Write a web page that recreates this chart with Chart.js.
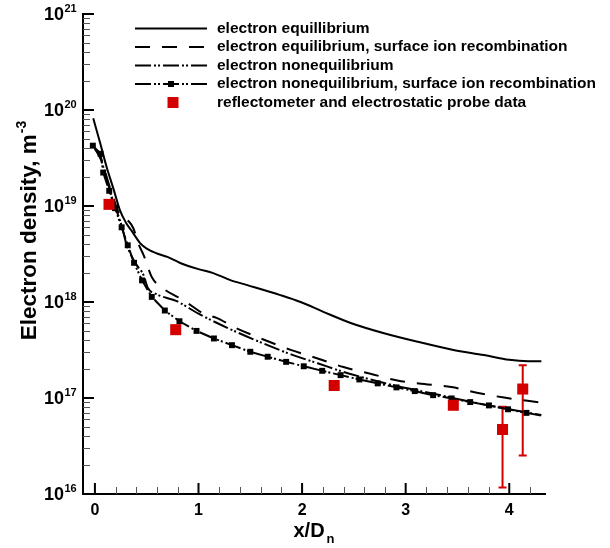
<!DOCTYPE html>
<html>
<head>
<meta charset="utf-8">
<script src="https://cdn.jsdelivr.net/npm/chart.js@4.4.0/dist/chart.umd.min.js"></script>
<style>
  body { margin: 0; background: #fff; }
  #wrap { width: 610px; height: 548px; }
</style>
</head>
<body>
<div id="wrap"><canvas id="densityChart" width="610" height="548"></canvas></div>
<script>
// legend texts, same order as the datasets
const seriesLabels = [
  'electron equillibrium',
  'electron equilibrium, surface ion recombination',
  'electron nonequilibrium',
  'electron nonequilibrium, surface ion recombination',
  'reflectometer and electrostatic probe data'
];

// electron equilibrium (solid)
const eqX = [-0.016, 0.05, 0.113, 0.18, 0.242, 0.3, 0.355, 0.40, 0.436, 0.5, 0.6, 0.7, 0.823, 1.0, 1.142,
  1.307, 1.471, 1.79, 1.985, 2.2, 2.469, 2.8, 3.117, 3.45, 3.756, 4.0, 4.18, 4.31];
const eqY = [8.2e19, 4.55e19, 2.55e19, 1.5e19, 9.0e18, 6.7e18, 5.5e18, 4.65e18, 4.1e18, 3.6e18, 3.2e18, 2.95e18,
  2.55e18, 2.2e18, 2.0e18, 1.69e18, 1.5e18, 1.18e18, 1.0e18, 7.95e17, 6.05e17, 4.7e17, 3.85e17, 3.18e17,
  2.8e17, 2.5e17, 2.42e17, 2.42e17];

// electron equilibrium, surface ion recombination (dashed)
const eqRecX = [0.0, 0.06, 0.12, 0.18, 0.24, 0.3, 0.33, 0.37, 0.42, 0.47, 0.55, 0.66, 0.81, 0.92, 1.05, 1.18,
  1.34, 1.6, 1.89, 2.15, 2.4, 2.66, 2.92, 3.18, 3.44, 3.7, 3.95, 4.29];
const eqRecY = [3.95e19, 3.14e19, 1.9e19, 1.2e19, 8.1e18, 7.2e18, 6.85e18, 5.9e18, 4.05e18, 3.08e18, 1.81e18,
  1.38e18, 1.11e18, 9.35e17, 7.55e17, 6.8e17, 5.5e17, 4.18e17, 3.17e17, 2.58e17, 2.1e17, 1.79e17, 1.52e17,
  1.4e17, 1.3e17, 1.13e17, 1.01e17, 9.0e16];

// electron nonequilibrium (dash-dot-dot)
const neqX = [0.0, 0.06, 0.12, 0.18, 0.24, 0.27, 0.30, 0.34, 0.40, 0.47, 0.51, 0.6, 0.79, 1.0, 1.3, 1.6, 1.9,
  2.15, 2.4, 2.66, 2.92, 3.18, 3.44, 3.7, 3.95, 4.31];
const neqY = [3.95e19, 3.0e19, 1.8e19, 1.09e19, 7.2e18, 5.6e18, 4.15e18, 3.22e18, 2.45e18, 1.9e18, 1.41e18,
  1.2e18, 1.02e18, 7.55e17, 5.25e17, 3.8e17, 2.83e17, 2.3e17, 1.87e17, 1.56e17, 1.33e17, 1.16e17, 1.01e17,
  8.8e16, 7.8e16, 6.65e16];

// electron nonequilibrium, surface ion recombination (dash-dot-dot with square symbols)
const neqRecX = [-0.02, 0.055, 0.08, 0.138, 0.194, 0.258, 0.317, 0.378, 0.455, 0.549, 0.675, 0.816, 0.981,
  1.149, 1.323, 1.50, 1.668, 1.846, 2.016, 2.194, 2.372, 2.553, 2.73, 2.911, 3.088, 3.265, 3.443, 3.623,
  3.804, 3.988, 4.166, 4.308];
const neqRecY = [4.25e19, 3.5e19, 2.23e19, 1.44e19, 9.5e18, 6.0e18, 3.9e18, 2.56e18, 1.68e18, 1.13e18, 8.15e17,
  6.3e17, 5.0e17, 4.17e17, 3.55e17, 3.03e17, 2.69e17, 2.38e17, 2.14e17, 1.92e17, 1.73e17, 1.56e17, 1.42e17,
  1.29e17, 1.18e17, 1.07e17, 9.9e16, 9.07e16, 8.37e16, 7.63e16, 7.0e16, 6.56e16];

// reflectometer / probe measurements, with error bar limits (null = no bar)
const probeX = [0.136, 0.78, 2.31, 3.46, 3.935, 4.13];
const probeY = [1.04e19, 5.15e17, 1.35e17, 8.4e16, 4.7e16, 1.24e17];
const probeLow = [null, null, null, null, 1.17e16, 2.52e16];
const probeHigh = [null, null, null, null, 8.1e16, 2.2e17];

const xTickValues = [0, 1, 2, 3, 4];
const yDecades = [16, 17, 18, 19, 20, 21];

const RED = '#d40000';
const FONT = '"Liberation Sans", Arial, Helvetica, sans-serif';

function pts(xs, ys) {
  return xs.map((x, i) => ({ x: x, y: ys[i] }));
}

const decor = {
  id: 'decor',
  beforeDatasetsDraw(chart) {
    // error bars under the red squares
    const { ctx, scales: { x, y } } = chart;
    ctx.save();
    ctx.strokeStyle = RED;
    ctx.lineWidth = 2;
    probeX.forEach((v, i) => {
      if (probeLow[i] == null) return;
      const px = x.getPixelForValue(v);
      const top = y.getPixelForValue(probeHigh[i]);
      const bot = y.getPixelForValue(probeLow[i]);
      ctx.beginPath();
      ctx.moveTo(px, top); ctx.lineTo(px, bot);
      ctx.moveTo(px - 4, top); ctx.lineTo(px + 4, top);
      ctx.moveTo(px - 4, bot); ctx.lineTo(px + 4, bot);
      ctx.stroke();
    });
    ctx.restore();
  },
  afterDraw(chart) {
    const { ctx, chartArea: a, scales: { x, y } } = chart;
    ctx.save();

    // inward tick marks
    ctx.strokeStyle = '#000';
    ctx.lineWidth = 2;
    ctx.beginPath();
    xTickValues.forEach(v => {
      const px = x.getPixelForValue(v);
      ctx.moveTo(px, a.bottom); ctx.lineTo(px, a.bottom - 11);
    });
    yDecades.forEach(d => {
      const py = y.getPixelForValue(Math.pow(10, d));
      ctx.moveTo(a.left, py); ctx.lineTo(a.left + 11, py);
    });
    ctx.stroke();

    ctx.strokeStyle = '#555';
    ctx.lineWidth = 1;
    ctx.beginPath();
    for (let k = 1; k * 0.2 < x.max; k++) {
      if (k % 5 === 0) continue;
      const px = Math.round(x.getPixelForValue(k * 0.2)) + 0.5;
      ctx.moveTo(px, a.bottom); ctx.lineTo(px, a.bottom - 7);
    }
    yDecades.slice(0, -1).forEach(d => {
      for (let m = 2; m <= 9; m++) {
        const py = Math.round(y.getPixelForValue(m * Math.pow(10, d))) + 0.5;
        ctx.moveTo(a.left, py); ctx.lineTo(a.left + 7, py);
      }
    });
    ctx.stroke();

    // tick labels
    ctx.fillStyle = '#000';
    ctx.font = 'bold 16px ' + FONT;
    ctx.textAlign = 'center';
    ctx.textBaseline = 'middle';
    xTickValues.forEach(v => ctx.fillText(String(v), x.getPixelForValue(v), 511));

    yDecades.forEach(d => {
      const py = y.getPixelForValue(Math.pow(10, d));
      ctx.font = 'bold 18px ' + FONT;
      ctx.textAlign = 'right';
      ctx.textBaseline = 'middle';
      ctx.fillText('10', 64, py + 1);
      ctx.font = 'bold 11px ' + FONT;
      ctx.textAlign = 'left';
      ctx.textBaseline = 'alphabetic';
      ctx.fillText(String(d), 64.5, py - 2);
    });

    // x axis title: x/D with subscript n
    ctx.textAlign = 'left';
    ctx.textBaseline = 'alphabetic';
    ctx.font = 'bold 20px ' + FONT;
    const t1 = 'x/D';
    const w1 = ctx.measureText(t1).width;
    ctx.font = 'bold 13px ' + FONT;
    const w2 = ctx.measureText('n').width;
    const x0 = (a.left + a.right) / 2 - (w1 + w2 + 2) / 2;
    ctx.font = 'bold 20px ' + FONT;
    ctx.fillText(t1, x0, 537);
    ctx.font = 'bold 13px ' + FONT;
    ctx.fillText('n', x0 + w1 + 2, 543);

    // y axis title: Electron density, m^-3
    ctx.save();
    ctx.translate(36, 231);
    ctx.rotate(-Math.PI / 2);
    ctx.font = 'bold 22.5px ' + FONT;
    const yt = 'Electron density, m';
    const wy = ctx.measureText(yt).width;
    ctx.font = 'bold 14px ' + FONT;
    const we = ctx.measureText('-3').width;
    const y0 = -(wy + we) / 2;
    ctx.font = 'bold 22.5px ' + FONT;
    ctx.fillText(yt, y0, 0);
    ctx.font = 'bold 14px ' + FONT;
    ctx.fillText('-3', y0 + wy + 1, -10);
    ctx.restore();

    // legend
    const rowY = [28.5, 47, 65.5, 84, 102.5];
    const lx0 = 135, lx1 = 207, tx = 217;
    chart.data.datasets.forEach((ds, i) => {
      const ry = rowY[i];
      if (ds.showLine !== false) {
        ctx.strokeStyle = ds.borderColor;
        ctx.lineWidth = ds.borderWidth;
        ctx.setLineDash(ds.borderDash || []);
        ctx.beginPath();
        ctx.moveTo(lx0, ry); ctx.lineTo(lx1, ry);
        ctx.stroke();
        ctx.setLineDash([]);
      }
      if (ds.legendMarker) {
        const s = ds.legendMarker;
        ctx.fillStyle = ds.pointBackgroundColor;
        ctx.fillRect(ds.legendMarkerX - s / 2, ry - s / 2, s, s);
      }
      ctx.fillStyle = '#000';
      ctx.font = 'bold 15.5px ' + FONT;
      ctx.textAlign = 'left';
      ctx.textBaseline = 'middle';
      ctx.fillText(ds.label, tx, ry);
    });

    ctx.restore();
  }
};

const ctx = document.getElementById('densityChart');

new Chart(ctx, {
  type: 'line',
  data: {
    datasets: [
      {
        label: seriesLabels[0],
        data: pts(eqX, eqY),
        borderColor: '#000',
        borderWidth: 2,
        pointRadius: 0,
        cubicInterpolationMode: 'monotone',
        order: 1
      },
      {
        label: seriesLabels[1],
        data: pts(eqRecX, eqRecY),
        borderColor: '#000',
        borderWidth: 2,
        borderDash: [15, 12],
        pointRadius: 0,
        cubicInterpolationMode: 'monotone',
        order: 1
      },
      {
        label: seriesLabels[2],
        data: pts(neqX, neqY),
        borderColor: '#000',
        borderWidth: 2,
        borderDash: [16, 3, 2, 2, 2, 3],
        pointRadius: 0,
        cubicInterpolationMode: 'monotone',
        order: 1
      },
      {
        label: seriesLabels[3],
        data: pts(neqRecX, neqRecY),
        borderColor: '#000',
        borderWidth: 2,
        borderDash: [16, 3, 2, 2, 2, 3],
        pointStyle: 'rect',
        pointRadius: c => (c.dataIndex === neqRecX.length - 1 ? 0 : 4.2),
        pointBackgroundColor: '#000',
        pointBorderWidth: 0,
        legendMarker: 6,
        legendMarkerX: 171,
        order: 1
      },
      {
        label: seriesLabels[4],
        data: pts(probeX, probeY),
        showLine: false,
        pointStyle: 'rect',
        pointRadius: 7.8,
        pointBackgroundColor: RED,
        pointBorderWidth: 0,
        legendMarker: 11,
        legendMarkerX: 173,
        order: 0
      }
    ]
  },
  options: {
    responsive: false,
    animation: false,
    layout: { padding: { left: 83, right: 65, top: 14, bottom: 54 } },
    plugins: {
      legend: { display: false },
      tooltip: { enabled: false }
    },
    scales: {
      x: {
        type: 'linear',
        min: -0.115,
        max: 4.345,
        grid: { display: false, drawTicks: false, tickLength: 0 },
        border: { display: true, color: '#000', width: 2 },
        ticks: { display: false }
      },
      y: {
        type: 'logarithmic',
        min: 1e16,
        max: 1e21,
        grid: { display: false, drawTicks: false, tickLength: 0 },
        border: { display: true, color: '#000', width: 2 },
        ticks: { display: false }
      }
    }
  },
  plugins: [decor]
});
</script>
</body>
</html>
